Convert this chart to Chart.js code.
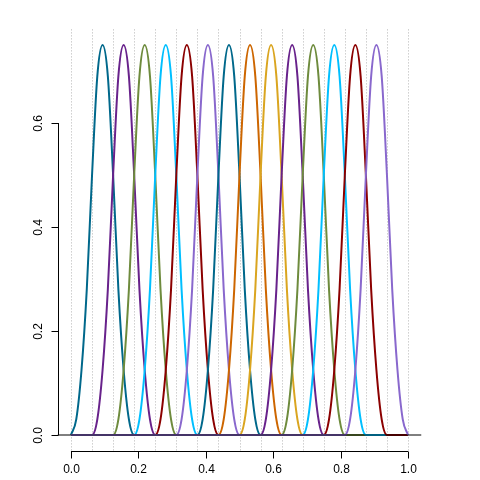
<!DOCTYPE html>
<html>
<head>
<meta charset="utf-8">
<script src="https://cdn.jsdelivr.net/npm/chart.js@4"></script>
<style>
html,body{margin:0;padding:0;background:#fff;}
#wrap{width:480px;height:480px;position:relative;}
</style>
</head>
<body>
<div id="wrap"><canvas id="c" width="480" height="480"></canvas></div>
<script>
// Knot positions (dotted vertical lines)
const knots = [0, 0.0625, 0.125, 0.1875, 0.25, 0.3125, 0.375, 0.4375, 0.5,
               0.5625, 0.625, 0.6875, 0.75, 0.8125, 0.875, 0.9375, 1];
// Left end of each basis curve's support (knot index)
const supportStart = [0, 1, 2, 3, 4, 5, 6, 7, 8, 9, 10, 11, 12, 13];
// Curve height read at quarter-knot steps across its 3-knot support
const profile = [0, 0.03, 0.125, 0.28, 0.5, 0.69, 0.75, 0.69, 0.5, 0.28, 0.125, 0.03, 0];
const curveColors = ['#00688B', '#68228B', '#6E8B3D', '#00BFFF', '#8B0000', '#8968CD',
                     '#00688B', '#CD6600', '#DAA520', '#68228B', '#6E8B3D', '#00BFFF',
                     '#8B0000', '#8968CD'];
const xTicks = [0, 0.2, 0.4, 0.6, 0.8, 1.0];
const xTickLabels = ['0.0', '0.2', '0.4', '0.6', '0.8', '1.0'];
const yTicks = [0, 0.2, 0.4, 0.6];
const yTickLabels = ['0.0', '0.2', '0.4', '0.6'];

const step = knots[1] - knots[0];
const datasets = supportStart.map((k, i) => {
  const pts = [];
  if (knots[k] > knots[0]) pts.push({x: knots[0], y: 0});
  profile.forEach((v, j) => pts.push({x: knots[k] + j * step / 4, y: v}));
  if (knots[k + 3] < knots[knots.length - 1]) pts.push({x: knots[knots.length - 1], y: 0});
  return {
    data: pts, borderColor: curveColors[i], borderWidth: 2, pointRadius: 0,
    cubicInterpolationMode: 'monotone', fill: false, order: 100 - i
  };
});
datasets.push({
  data: [{x: -0.04, y: 0}, {x: 1.04, y: 0}], borderColor: '#000', borderWidth: 1,
  pointRadius: 0, fill: false, order: 0
});

const rAxes = {
  id: 'rAxes',
  beforeDatasetsDraw(chart) {
    const {ctx, chartArea, scales: {x}} = chart;
    ctx.save();
    ctx.strokeStyle = '#b4b4b4';
    ctx.lineWidth = 1;
    ctx.setLineDash([1, 2]);
    knots.forEach(k => {
      const px = Math.round(x.getPixelForValue(k)) + 0.5;
      ctx.beginPath();
      ctx.moveTo(px, chartArea.top);
      ctx.lineTo(px, chartArea.bottom);
      ctx.stroke();
    });
    ctx.restore();
  },
  afterDraw(chart) {
    const {ctx, chartArea, scales: {x, y}} = chart;
    ctx.save();
    ctx.strokeStyle = '#000';
    ctx.fillStyle = '#000';
    ctx.lineWidth = 1;
    ctx.font = '12px "Liberation Sans", Arial, sans-serif';
    // x axis
    const ay = Math.round(chartArea.bottom) + 0.5;
    ctx.beginPath();
    ctx.moveTo(x.getPixelForValue(xTicks[0]), ay);
    ctx.lineTo(x.getPixelForValue(xTicks[xTicks.length - 1]), ay);
    ctx.stroke();
    ctx.textAlign = 'center';
    ctx.textBaseline = 'middle';
    xTicks.forEach((t, i) => {
      const px = Math.round(x.getPixelForValue(t)) + 0.5;
      ctx.beginPath();
      ctx.moveTo(px, ay);
      ctx.lineTo(px, ay + 7);
      ctx.stroke();
      ctx.fillText(xTickLabels[i], px, ay + 18);
    });
    // y axis
    const ax = Math.round(chartArea.left) + 0.5;
    ctx.beginPath();
    ctx.moveTo(ax, y.getPixelForValue(yTicks[0]));
    ctx.lineTo(ax, y.getPixelForValue(yTicks[yTicks.length - 1]));
    ctx.stroke();
    yTicks.forEach((t, i) => {
      const py = Math.round(y.getPixelForValue(t)) + 0.5;
      ctx.beginPath();
      ctx.moveTo(ax, py);
      ctx.lineTo(ax - 7, py);
      ctx.stroke();
      ctx.save();
      ctx.translate(ax - 20, py);
      ctx.rotate(-Math.PI / 2);
      ctx.fillText(yTickLabels[i], 0, 0);
      ctx.restore();
    });
    ctx.restore();
  }
};

new Chart(document.getElementById('c'), {
  type: 'line',
  data: {datasets},
  options: {
    responsive: false,
    animation: false,
    layout: {padding: {left: 57.5, right: 58.5, top: 29.4, bottom: 29.4}},
    plugins: {legend: {display: false}, tooltip: {enabled: false}},
    scales: {
      x: {type: 'linear', min: -0.04, max: 1.04, display: false},
      y: {type: 'linear', min: -0.03, max: 0.78, display: false}
    }
  },
  plugins: [rAxes]
});
</script>
</body>
</html>
